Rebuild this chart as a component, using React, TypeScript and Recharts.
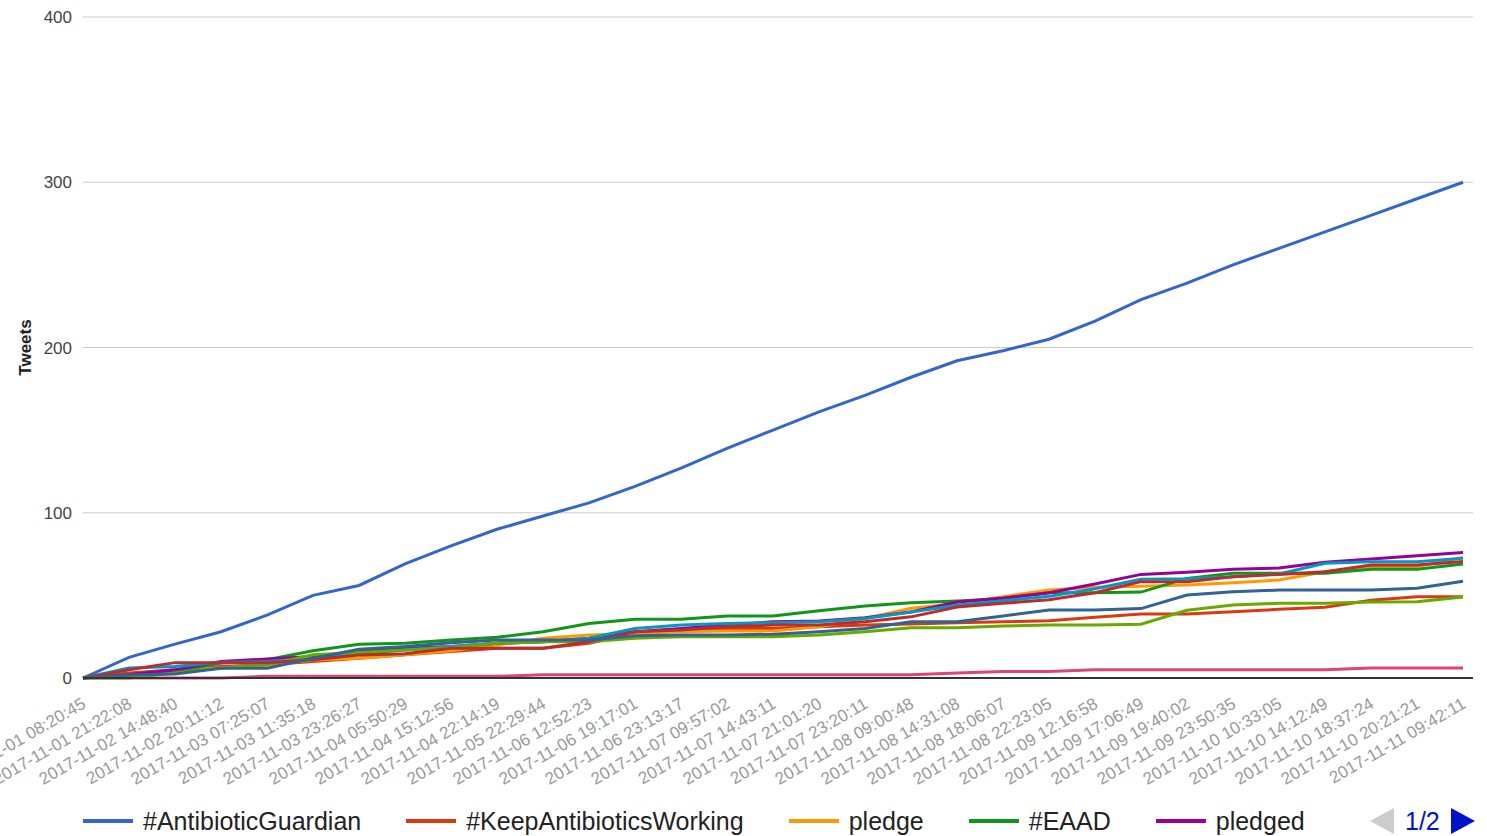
import React from "react";
import { LineChart, Line, XAxis, YAxis, CartesianGrid } from "recharts";

// tweet timestamps shown on the x axis (every labelled row)
const CATEGORIES = [
  "2017-11-01 08:20:45", "2017-11-01 21:22:08", "2017-11-02 14:48:40", "2017-11-02 20:11:12",
  "2017-11-03 07:25:07", "2017-11-03 11:35:18", "2017-11-03 23:26:27", "2017-11-04 05:50:29",
  "2017-11-04 15:12:56", "2017-11-04 22:14:19", "2017-11-05 22:29:44", "2017-11-06 12:52:23",
  "2017-11-06 19:17:01", "2017-11-06 23:13:17", "2017-11-07 09:57:02", "2017-11-07 14:43:11",
  "2017-11-07 21:01:20", "2017-11-07 23:20:11", "2017-11-08 09:00:48", "2017-11-08 14:31:08",
  "2017-11-08 18:06:07", "2017-11-08 22:23:05", "2017-11-09 12:16:58", "2017-11-09 17:06:49",
  "2017-11-09 19:40:02", "2017-11-09 23:50:35", "2017-11-10 10:33:05", "2017-11-10 14:12:49",
  "2017-11-10 18:37:24", "2017-11-10 20:21:21", "2017-11-11 09:42:11",
];

const Y_TICKS = [0, 100, 200, 300, 400];

// cumulative tweet counts per hashtag / keyword
const ANTIBIOTIC_GUARDIAN = [0, 12.5, 20.5, 28, 38, 50, 56, 69, 80, 90, 98, 106, 116, 127, 139, 150, 161, 171, 182, 192, 198, 205, 216, 229, 239, 250, 260, 270, 280, 290, 300];
const KEEP_ANTIBIOTICS_WORKING = [0, 3, 5, 7, 8, 10, 12, 14, 16, 18, 18, 21, 27, 29, 30, 30, 31, 32, 32.7, 33.5, 34, 34.7, 36.7, 38.7, 38.7, 40.1, 41.6, 42.8, 47, 49.2, 49.2];
const PLEDGE = [0, 1, 5, 6, 8, 10.9, 12, 14, 16.5, 20, 24, 26, 27, 28, 28.4, 28.4, 31, 36, 42.2, 45, 49.2, 53.2, 54.9, 55.5, 56.3, 57.7, 59.3, 64.3, 67.4, 67.4, 73];
const EAAD = [0, 2, 4, 9, 11, 16.5, 20.4, 21, 23, 24.6, 28, 33, 35.5, 35.5, 37.5, 37.5, 40.7, 43.6, 45.6, 46.6, 48, 51.6, 51.6, 52, 60.3, 63.4, 63.4, 63.4, 65.8, 65.8, 69];
const PLEDGED = [0, 2, 5, 10, 11.5, 13, 16, 18, 19, 21, 22, 24, 28, 30, 32, 34, 34.5, 36.5, 40, 46, 48.4, 51.6, 56.9, 62.7, 64, 65.8, 66.5, 70, 72, 74, 76];
// series on legend page 2
const SERIES_6 = [0, 6, 7, 9.5, 10, 12, 15, 17, 19, 21, 22, 24, 30, 32, 33, 33.5, 34, 36, 40, 44, 46.8, 49.4, 54, 59.7, 60, 61.3, 63, 69.4, 70.4, 70.4, 72.5];
const SERIES_7 = [0, 0, 0, 0, 1, 1, 1, 1, 1, 1, 2, 2, 2, 2, 2, 2, 2, 2, 2, 3, 4, 4, 5, 5, 5, 5, 5, 5, 6, 6, 6];
const SERIES_8 = [0, 0, 3, 6, 8, 14, 15.5, 17, 18.5, 21, 22, 22, 24, 25, 25, 25, 26, 28, 30.4, 30.4, 31.5, 32, 32, 32.5, 41, 44.2, 45.2, 45.2, 46, 46.2, 49];
const SERIES_9 = [0, 5, 9.3, 9.3, 9.3, 11, 13.9, 14.7, 18, 18, 18, 22, 28, 29, 31, 32, 32, 34, 37, 43, 45.2, 47.4, 51.6, 58.3, 58.3, 61.3, 62.7, 64.3, 68.4, 68.4, 70.5];
const SERIES_10 = [0, 1.8, 2.4, 5.9, 5.9, 12, 17.4, 19, 21.4, 23, 23, 23, 25.5, 26, 26, 26.5, 28, 30, 34, 34, 37.5, 41.1, 41.1, 42, 50.2, 52.2, 53.2, 53.2, 53.2, 54.3, 58.5];

const SERIES = [
  { key: "s1", name: "#AntibioticGuardian", color: "#3366cc", values: ANTIBIOTIC_GUARDIAN },
  { key: "s2", name: "#KeepAntibioticsWorking", color: "#dc3912", values: KEEP_ANTIBIOTICS_WORKING },
  { key: "s3", name: "pledge", color: "#ff9900", values: PLEDGE },
  { key: "s4", name: "#EAAD", color: "#109618", values: EAAD },
  { key: "s5", name: "pledged", color: "#990099", values: PLEDGED },
  { key: "s6", name: "s6", color: "#0099c6", values: SERIES_6 },
  { key: "s7", name: "s7", color: "#dd4477", values: SERIES_7 },
  { key: "s8", name: "s8", color: "#66aa00", values: SERIES_8 },
  { key: "s9", name: "s9", color: "#b82e2e", values: SERIES_9 },
  { key: "s10", name: "s10", color: "#316395", values: SERIES_10 },
];

const rows = CATEGORIES.map((time, i) => {
  const row: Record<string, string | number> = { time };
  SERIES.forEach((s) => (row[s.key] = s.values[i]));
  return row;
});

const FONT = '"Liberation Sans", Arial, sans-serif';

const XTick = ({ x, y, payload }: any) => {
  const tx = x + 4;
  const ty = y + 29;
  return (
    <text x={tx} y={ty} textAnchor="end" transform={`rotate(-30, ${tx}, ${ty})`}
      fill="#999" fontSize={17} fontFamily={FONT}>
      {payload.value}
    </text>
  );
};

const YTitle = ({ viewBox }: any) => {
  const cy = viewBox.y + viewBox.height / 2;
  return (
    <text x={31} y={cy} textAnchor="middle" transform={`rotate(-90, 31, ${cy})`}
      fill="#222" fontSize={17} fontWeight="bold" fontFamily={FONT}>
      Tweets
    </text>
  );
};

function ChartLegend() {
  return (
    <div style={{ position: "absolute", left: 83, top: 806, height: 30, display: "flex", alignItems: "center", fontFamily: FONT, fontSize: 25, color: "#222" }}>
      {SERIES.slice(0, 5).map((s) => (
        <div key={s.key} style={{ display: "flex", alignItems: "center", marginRight: 45, whiteSpace: "nowrap" }}>
          <span style={{ display: "inline-block", width: 50, height: 4, background: s.color, marginRight: 10 }} />
          <span>{s.name}</span>
        </div>
      ))}
    </div>
  );
}

function Pager() {
  return (
    <div style={{ position: "absolute", left: 1369, top: 806, height: 30, display: "flex", alignItems: "center", fontFamily: FONT, fontSize: 25, color: "#0011cc" }}>
      <svg width={26} height={28}><polygon points="1,14 25,1 25,27" fill="#cccccc" /></svg>
      <span style={{ marginLeft: 10, marginRight: 10 }}>1/2</span>
      <svg width={26} height={28}><polygon points="1,1 25,14 1,27" fill="#0011cc" /></svg>
    </div>
  );
}

export default function App() {
  return (
    <div style={{ position: "absolute", left: 0, top: 0, width: 1487, height: 836, background: "#fff", fontFamily: FONT }}>
      <LineChart width={1487} height={800} data={rows} margin={{ top: 17, right: 14, left: 0, bottom: 0 }}>
        <CartesianGrid vertical={false} stroke="#cccccc" />
        <XAxis
          dataKey="time"
          interval={0}
          height={122}
          tickSize={0}
          tickMargin={0}
          tick={<XTick />}
          padding={{ left: 0, right: 10 }}
          axisLine={{ stroke: "#333", strokeWidth: 2 }}
        />
        <YAxis
          width={83}
          domain={[0, 400]}
          ticks={Y_TICKS}
          axisLine={false}
          tickLine={false}
          tickSize={0}
          tickMargin={11}
          tick={{ fill: "#444", fontSize: 17, fontFamily: FONT }}
          label={{ content: <YTitle /> }}
        />
        {SERIES.map((s) => (
          <Line
            key={s.key}
            type="linear"
            dataKey={s.key}
            name={s.name}
            stroke={s.color}
            strokeWidth={3}
            dot={false}
            activeDot={false}
            isAnimationActive={false}
          />
        ))}
      </LineChart>
      <ChartLegend />
      <Pager />
    </div>
  );
}
